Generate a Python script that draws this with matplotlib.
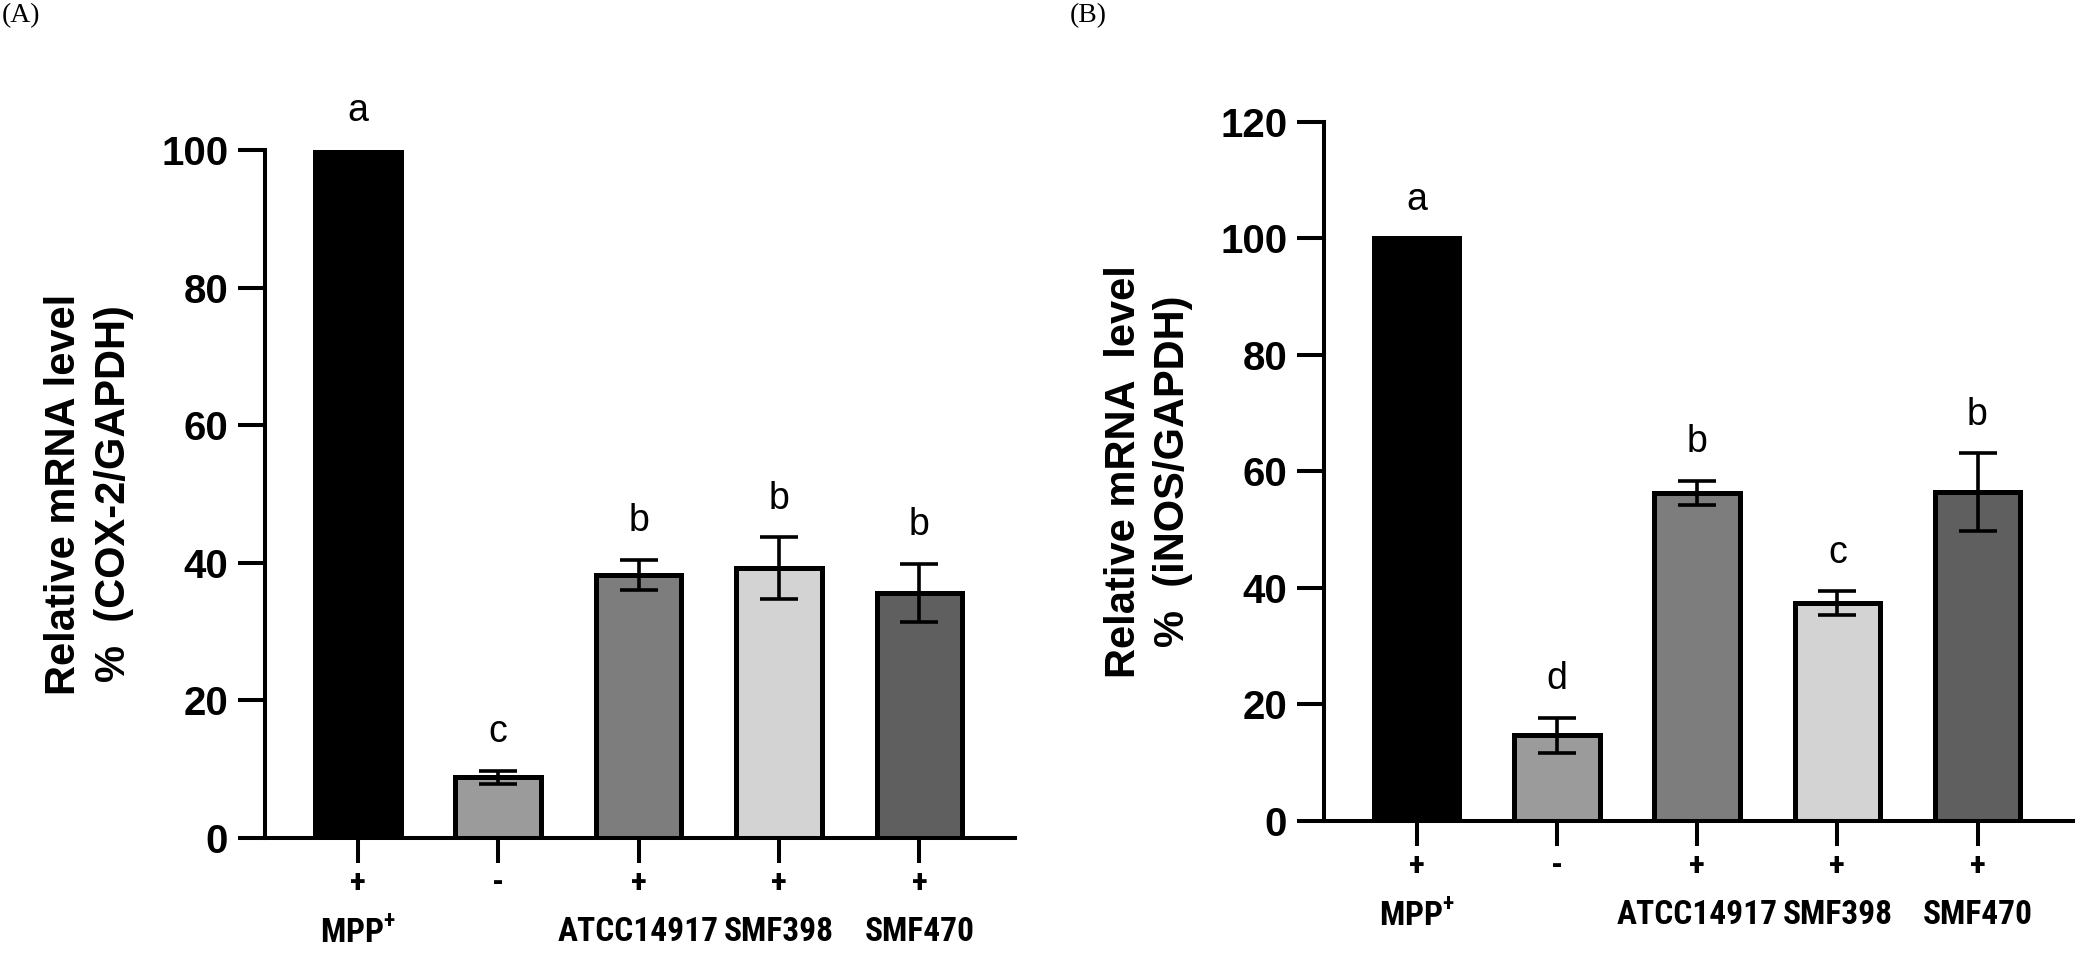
import matplotlib
matplotlib.use("Agg")
import matplotlib.pyplot as plt
from matplotlib import font_manager

plt.rcParams['font.family'] = ['Liberation Sans', 'DejaVu Sans']

# condensed font for the group names, if there is one
installed = {f.name for f in font_manager.fontManager.ttflist}
if 'Roboto Condensed' in installed:
    name_font, name_size = 'Roboto Condensed', 24
elif 'Liberation Sans Narrow' in installed:
    name_font, name_size = 'Liberation Sans Narrow', 23
else:
    name_font, name_size = 'Liberation Sans', 20
plt.rcParams['mathtext.fontset'] = 'custom'
plt.rcParams['mathtext.rm'] = name_font + ':bold'

# data
groups = ["MPP$^{\\mathrm{+}}$", "", "ATCC14917", "SMF398", "SMF470"]
signs = ["+", "-", "+", "+", "+"]
bar_colors = ["#000000", "#9b9b9b", "#7d7d7d", "#d3d3d3", "#5f5f5f"]

cox2_mean = [100, 8.8, 38.2, 39.2, 35.6]
cox2_err = [0, 0.9, 2.2, 4.5, 4.2]
cox2_letters = ["a", "c", "b", "b", "b"]

inos_mean = [100, 14.7, 56.3, 37.4, 56.4]
inos_err = [0, 3.0, 2.1, 2.0, 6.7]
inos_letters = ["a", "d", "b", "c", "b"]

fig = plt.figure(figsize=(20.85, 9.61), dpi=100)
axA = fig.add_axes([0.1271, 0.1280, 0.3597, 0.7159])
axB = fig.add_axes([0.6350, 0.1457, 0.3592, 0.7274])


def panel(ax, mean, err, letters, ymax, ylabel):
    x = range(len(mean))
    ax.bar(x, mean, width=0.61, color=bar_colors, edgecolor='black',
           linewidth=3.6, zorder=2)
    ax.errorbar(x, mean, yerr=err, fmt='none', ecolor='black',
                elinewidth=2.6, capsize=14, capthick=2.6, zorder=3)
    for i, (m, e, t) in enumerate(zip(mean, err, letters)):
        ax.annotate(t, (i, m + e), xytext=(0, 15), textcoords='offset points',
                    ha='center', va='bottom', fontsize=27)
    for i, g in enumerate(groups):
        ax.annotate(g, (i, 0), xycoords=('data', 'axes fraction'),
                    xytext=(0, -68), textcoords='offset points',
                    ha='center', va='center', fontsize=name_size,
                    fontweight='bold', family=name_font)
    ax.set_xlim(-0.66, 4.68)
    ax.set_ylim(0, ymax)
    ax.set_yticks(range(0, ymax + 1, 20))
    ax.set_xticks(list(x))
    ax.set_xticklabels(signs, fontsize=name_size, fontweight='bold',
                       family=name_font)
    for lab in ax.get_yticklabels():
        lab.set_fontsize(29)
        lab.set_fontweight('bold')
    ax.tick_params(axis='y', length=19.5, width=2.9, pad=7)
    ax.tick_params(axis='x', length=18, width=2.9, pad=3)
    for s in ['top', 'right']:
        ax.spines[s].set_visible(False)
    for s in ['left', 'bottom']:
        ax.spines[s].set_linewidth(2.9)
    ax.set_ylabel(ylabel, fontsize=30, fontweight='bold', linespacing=1.3)
    ax.yaxis.set_label_coords(-0.175, 0.5)


panel(axA, cox2_mean, cox2_err, cox2_letters, 100,
      "Relative mRNA level\n%  (COX-2/GAPDH)")
panel(axB, inos_mean, inos_err, inos_letters, 120,
      "Relative mRNA  level\n%  (iNOS/GAPDH)")

fig.text(0.001, 0.997, "(A)", ha='left', va='top', fontsize=20,
         family='Liberation Serif')
fig.text(0.513, 0.997, "(B)", ha='left', va='top', fontsize=20,
         family='Liberation Serif')

fig.savefig("out.png", dpi=100)
